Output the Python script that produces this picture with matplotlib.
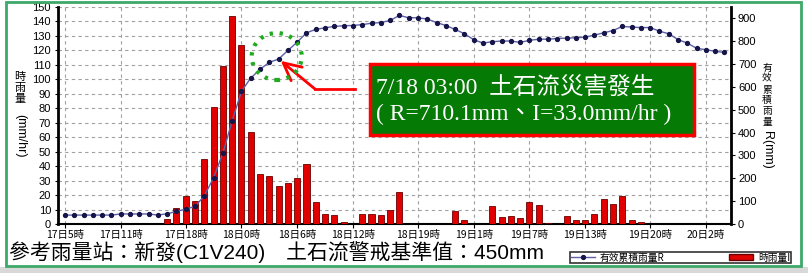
import numpy as np
import matplotlib
matplotlib.use('Agg')
import matplotlib.pyplot as plt
from matplotlib.patches import Rectangle, Ellipse, Patch
from matplotlib.lines import Line2D

plt.rcParams['font.family'] = ['Liberation Sans', 'Noto Sans CJK TC', 'DejaVu Sans']

# hourly data from 17日5時 (hour 5) to 20日4時 (hour 76)
hours = np.arange(5, 77)
rain_hr = [0, 0, 0, 0, 0, 0, 0, 0, 0, 0, 0,
           3.5, 11.2, 19.5, 16, 45, 81, 109, 144, 124, 63.5,
           34.5, 33.0, 26.5, 28.5, 32, 41.5, 15, 7, 6, 1.5,
           0, 7, 7, 6, 9.5, 22, 0, 0, 0, 0,
           0, 9, 2.5, 0, 0, 12.5, 4.5, 5.5, 4, 15.5,
           13, 1, 0, 5.5, 3, 2.5, 7, 17, 13.5, 19.5,
           3, 1.5,
           0, 0, 0, 0, 0, 0, 0, 0, 0]
rain_cum = [39, 39, 39, 39, 39, 39, 44, 44, 44, 44,
            39, 45, 55, 65, 77, 123, 203, 310, 452, 581,
            639, 677, 708, 722, 760, 796, 837, 852, 859, 865,
            868, 869, 873, 879, 882, 891, 913, 903, 903, 897,
            882, 869, 852, 833, 807, 792, 798, 801, 801, 795,
            804, 809, 809, 812, 814, 815, 818, 827, 837, 847,
            865, 862, 860, 860, 844, 833, 807, 792, 769, 763,
            756, 751]

tick_hours = [5, 11, 18, 24, 30, 36, 43, 49, 55, 61, 68, 74]
tick_labels = ['17日5時', '17日11時', '17日18時', '18日0時', '18日6時', '18日12時',
               '18日19時', '19日1時', '19日7時', '19日13時', '19日20時', '20日2時']

event_idx = 23   # point pointed to by the red arrow

W, H = 808, 273
def px(x, y):
    return x / W, 1 - y / H

fig = plt.figure(figsize=(W / 100, H / 100), dpi=100)
fig.patch.set_facecolor('white')

x0, y0 = px(58, 224)
ax = fig.add_axes([x0, y0, (731 - 58) / W, (224 - 7) / H])
ax.bar(hours, rain_hr, width=0.65, color='#e00000', edgecolor='#6a0000', linewidth=0.6, zorder=3)
ax.set_xlim(4.25, 76.7)
ax.set_ylim(0, 150)
ax.set_yticks(np.arange(0, 151, 10))
ax.set_xticks(tick_hours)
ax.set_xticklabels(tick_labels, fontsize=7.5, family='Noto Sans CJK TC')
ax.tick_params(axis='y', labelsize=8, length=2, pad=3)
ax.tick_params(axis='x', length=3, pad=1)
ax.grid(True, ls=(0, (3, 3)), color='#a0a0a0', lw=0.8, zorder=0)
ax.spines['top'].set_visible(False)
ax.spines['left'].set_linewidth(2)
ax.spines['bottom'].set_linewidth(1.5)
ax.spines['right'].set_visible(False)

ax2 = ax.twinx()
ax2.plot(hours, rain_cum, color='#6060a8', lw=1.0, marker='o', ms=2.8,
         mfc='#15154a', mec='#15154a', zorder=4)
ax2.set_ylim(0, 950)
ax2.set_yticks(np.arange(0, 901, 100))
ax2.tick_params(axis='y', labelsize=8, length=3, pad=2)
ax2.spines['top'].set_visible(False)
ax2.spines['left'].set_visible(False)
ax2.spines['bottom'].set_visible(False)
ax2.spines['right'].set_linewidth(2)

# axis labels (vertical writing)
fig.text(*px(20, 88), '時\n雨\n量', ha='center', va='center', fontsize=8,
         linespacing=1.15, family='Noto Sans CJK TC')
fig.text(*px(20, 136), '(mm/hr)', ha='center', va='center', fontsize=9, rotation=-90)
fig.text(*px(767, 95), '有\n效\n累\n積\n雨\n量', ha='center', va='center', fontsize=7,
         linespacing=1.1, family='Noto Sans CJK TC')
fig.text(*px(767, 150), 'R(mm)', ha='center', va='center', fontsize=9, rotation=-90)

# dotted green circle and red arrow
fig.add_artist(Ellipse(px(276.7, 56.5), 50 / W, 47 / H, fill=False, edgecolor='#1faa1f',
                       lw=3, ls=(0, (0.8, 1.6)), transform=fig.transFigure, zorder=6))
fig.add_artist(Line2D([355 / W, 315 / W], [1 - 89 / H, 1 - 89 / H], color='red', lw=2,
                      transform=fig.transFigure, zorder=6))
ax2.annotate('', xy=(hours[event_idx], rain_cum[event_idx]), xycoords='data',
             xytext=px(315, 89), textcoords='figure fraction',
             arrowprops=dict(arrowstyle='->,head_length=0.7,head_width=0.35', color='red',
                             lw=2, mutation_scale=18, shrinkA=0, shrinkB=2), zorder=7)

# event box
fig.add_artist(Rectangle(px(370, 135), (694 - 370) / W, (135 - 64) / H, facecolor='#057a05',
                         edgecolor='#ff0000', lw=2.5, transform=fig.transFigure, zorder=6))
fig.text(*px(376, 88), '7/18 03:00  土石流災害發生', ha='left', va='center', fontsize=17,
         color='white', family=['Liberation Serif', 'Noto Sans CJK TC'], zorder=7)
fig.text(*px(376, 114), '( R=710.1mm、I=33.0mm/hr )', ha='left', va='center', fontsize=17,
         color='white', family=['Liberation Serif', 'Noto Sans CJK TC'], zorder=7)

# station text
fig.text(*px(9, 252), '參考雨量站：新發(C1V240)　土石流警戒基準值：450mm', ha='left', va='center',
         fontsize=15, family=['Liberation Sans', 'Noto Sans CJK TC'])

# legend
handles = [Line2D([], [], color='#6060a8', lw=1.0, marker='o', ms=2.8, mfc='#15154a', mec='#15154a'),
           Patch(facecolor='#e00000', edgecolor='#6a0000')]
leg = fig.legend(handles, ['有效累積雨量R', '時雨量I'], loc='center',
                 bbox_to_anchor=(565 / W, 1 - 264 / H, 231 / W, 13 / H), mode='expand', ncol=2,
                 prop={'family': 'Noto Sans CJK TC', 'size': 7}, fancybox=False,
                 edgecolor='black', borderpad=0.1, handlelength=2.5, handletextpad=0.5,
                 columnspacing=1.0, handleheight=0.6)
leg.get_frame().set_linewidth(1.2)

# outer frame
fig.add_artist(Rectangle(px(6, 266), (801 - 6) / W, (266 - 2) / H, fill=False,
                         edgecolor='#3da868', lw=2, transform=fig.transFigure, zorder=8))
fig.add_artist(Rectangle((0, 0), 1, 6 / H, facecolor='#d8d8d8', edgecolor='none',
                         transform=fig.transFigure, zorder=0))

fig.savefig('out.png', dpi=100)
